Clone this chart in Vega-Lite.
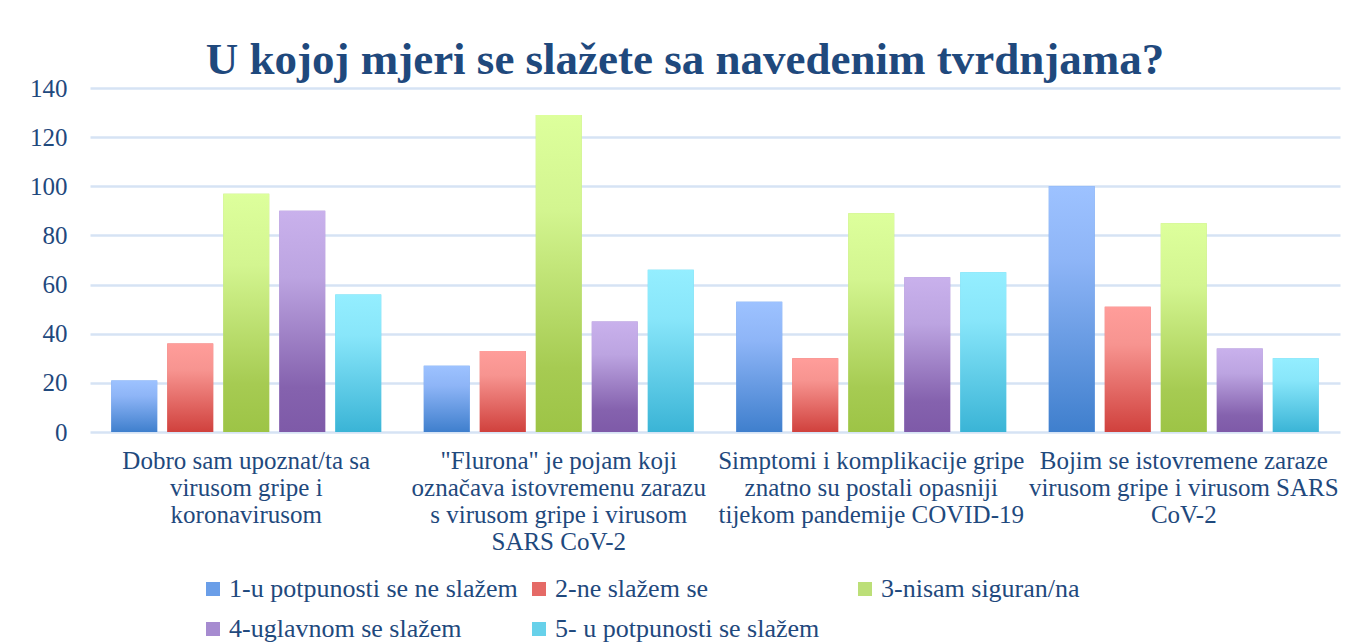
{
  "$schema": "https://vega.github.io/schema/vega-lite/v6.json",
  "width": 1250,
  "height": 344,
  "autosize": {"type": "none"},
  "padding": {"left": 90, "top": 88, "right": 8, "bottom": 210},
  "background": "white",
  "title": {
    "text": "U kojoj mjeri se slažete sa navedenim tvrdnjama?",
    "font": "Liberation Serif",
    "fontSize": 45,
    "fontWeight": "bold",
    "color": "#1F497D",
    "anchor": "middle",
    "dx": -30,
    "dy": 53,
    "offset": 10,
    "baseline": "alphabetic"
  },
  "config": {
    "view": {"stroke": null},
    "axis": {"labelFont": "Liberation Serif", "labelColor": "#1F497D"},
    "legend": {"labelFont": "Liberation Serif", "labelColor": "#1F497D"}
  },
  "data": {
    "values": [
      {"q": "Dobro sam upoznat/ta sa|virusom gripe i|koronavirusom", "s": "1-u potpunosti se ne slažem", "v": 21},
      {"q": "Dobro sam upoznat/ta sa|virusom gripe i|koronavirusom", "s": "2-ne slažem se", "v": 36},
      {"q": "Dobro sam upoznat/ta sa|virusom gripe i|koronavirusom", "s": "3-nisam siguran/na", "v": 97},
      {"q": "Dobro sam upoznat/ta sa|virusom gripe i|koronavirusom", "s": "4-uglavnom se slažem", "v": 90},
      {"q": "Dobro sam upoznat/ta sa|virusom gripe i|koronavirusom", "s": "5- u potpunosti se slažem", "v": 56},
      {"q": "\"Flurona\" je pojam koji|označava istovremenu zarazu|s virusom gripe i virusom|SARS CoV-2", "s": "1-u potpunosti se ne slažem", "v": 27},
      {"q": "\"Flurona\" je pojam koji|označava istovremenu zarazu|s virusom gripe i virusom|SARS CoV-2", "s": "2-ne slažem se", "v": 33},
      {"q": "\"Flurona\" je pojam koji|označava istovremenu zarazu|s virusom gripe i virusom|SARS CoV-2", "s": "3-nisam siguran/na", "v": 129},
      {"q": "\"Flurona\" je pojam koji|označava istovremenu zarazu|s virusom gripe i virusom|SARS CoV-2", "s": "4-uglavnom se slažem", "v": 45},
      {"q": "\"Flurona\" je pojam koji|označava istovremenu zarazu|s virusom gripe i virusom|SARS CoV-2", "s": "5- u potpunosti se slažem", "v": 66},
      {"q": "Simptomi i komplikacije gripe|znatno su postali opasniji|tijekom pandemije COVID-19", "s": "1-u potpunosti se ne slažem", "v": 53},
      {"q": "Simptomi i komplikacije gripe|znatno su postali opasniji|tijekom pandemije COVID-19", "s": "2-ne slažem se", "v": 30},
      {"q": "Simptomi i komplikacije gripe|znatno su postali opasniji|tijekom pandemije COVID-19", "s": "3-nisam siguran/na", "v": 89},
      {"q": "Simptomi i komplikacije gripe|znatno su postali opasniji|tijekom pandemije COVID-19", "s": "4-uglavnom se slažem", "v": 63},
      {"q": "Simptomi i komplikacije gripe|znatno su postali opasniji|tijekom pandemije COVID-19", "s": "5- u potpunosti se slažem", "v": 65},
      {"q": "Bojim se istovremene zaraze|virusom gripe i virusom SARS|CoV-2", "s": "1-u potpunosti se ne slažem", "v": 100},
      {"q": "Bojim se istovremene zaraze|virusom gripe i virusom SARS|CoV-2", "s": "2-ne slažem se", "v": 51},
      {"q": "Bojim se istovremene zaraze|virusom gripe i virusom SARS|CoV-2", "s": "3-nisam siguran/na", "v": 85},
      {"q": "Bojim se istovremene zaraze|virusom gripe i virusom SARS|CoV-2", "s": "4-uglavnom se slažem", "v": 34},
      {"q": "Bojim se istovremene zaraze|virusom gripe i virusom SARS|CoV-2", "s": "5- u potpunosti se slažem", "v": 30}
    ]
  },
  "encoding": {
    "x": {
      "field": "q",
      "type": "nominal",
      "sort": null,
      "title": null,
      "scale": {"paddingInner": 0, "paddingOuter": 0},
      "axis": {
        "labelExpr": "split(datum.label, '|')",
        "labelAngle": 0,
        "labelFontSize": 25,
        "labelLineHeight": 27,
        "labelPadding": 16,
        "labelLimit": 330,
        "ticks": false,
        "domain": false
      }
    },
    "xOffset": {
      "field": "s",
      "type": "nominal",
      "scale": {
        "domain": ["1-u potpunosti se ne slažem", "2-ne slažem se", "3-nisam siguran/na", "4-uglavnom se slažem", "5- u potpunosti se slažem"],
        "paddingInner": 0.18,
        "paddingOuter": 0.38
      }
    },
    "y": {
      "field": "v",
      "type": "quantitative",
      "title": null,
      "scale": {"domain": [0, 140], "nice": false},
      "axis": {
        "values": [0, 20, 40, 60, 80, 100, 120, 140],
        "labelFontSize": 25,
        "labelPadding": 23,
        "ticks": false,
        "domain": false,
        "gridColor": "#D6E3F4",
        "gridWidth": 2.5
      }
    }
  },
  "layer": [
    {
      "mark": {"type": "bar"},
      "encoding": {
        "color": {
          "field": "s",
          "type": "nominal",
          "scale": {
            "domain": ["1-u potpunosti se ne slažem", "2-ne slažem se", "3-nisam siguran/na", "4-uglavnom se slažem", "5- u potpunosti se slažem"],
            "range": ["#6A9EE8", "#E56A66", "#BCDF78", "#A68BD0", "#67D1EA"]
          },
          "legend": {
            "title": null,
            "orient": "none",
            "legendX": 110,
            "legendY": 488,
            "direction": "horizontal",
            "columns": 3,
            "gridAlign": "all",
            "symbolType": "square",
            "symbolSize": 196,
            "symbolStrokeWidth": 0,
            "labelFontSize": 26,
            "labelOffset": 3,
            "columnPadding": 8,
            "rowPadding": 14,
            "labelLimit": 400
          }
        }
      }
    },
    {
      "transform": [{"filter": "datum.s == '1-u potpunosti se ne slažem'"}],
      "mark": {"type": "bar", "color": {"gradient": "linear", "x1": 0, "y1": 0, "x2": 0, "y2": 1, "stops": [{"offset": 0, "color": "#9DC2FF"}, {"offset": 0.3, "color": "#8EB5F7"}, {"offset": 1, "color": "#3F7FCD"}]}}
    },
    {
      "transform": [{"filter": "datum.s == '2-ne slažem se'"}],
      "mark": {"type": "bar", "color": {"gradient": "linear", "x1": 0, "y1": 0, "x2": 0, "y2": 1, "stops": [{"offset": 0, "color": "#FF9D9A"}, {"offset": 0.3, "color": "#F79490"}, {"offset": 1, "color": "#D0413D"}]}}
    },
    {
      "transform": [{"filter": "datum.s == '3-nisam siguran/na'"}],
      "mark": {"type": "bar", "color": {"gradient": "linear", "x1": 0, "y1": 0, "x2": 0, "y2": 1, "stops": [{"offset": 0, "color": "#DDFF9C"}, {"offset": 0.3, "color": "#D3F590"}, {"offset": 0.8, "color": "#A6CB52"}, {"offset": 1, "color": "#9DC446"}]}}
    },
    {
      "transform": [{"filter": "datum.s == '4-uglavnom se slažem'"}],
      "mark": {"type": "bar", "color": {"gradient": "linear", "x1": 0, "y1": 0, "x2": 0, "y2": 1, "stops": [{"offset": 0, "color": "#C9B1EC"}, {"offset": 0.3, "color": "#BCA4E1"}, {"offset": 0.8, "color": "#8562AE"}, {"offset": 1, "color": "#7E5AA8"}]}}
    },
    {
      "transform": [{"filter": "datum.s == '5- u potpunosti se slažem'"}],
      "mark": {"type": "bar", "color": {"gradient": "linear", "x1": 0, "y1": 0, "x2": 0, "y2": 1, "stops": [{"offset": 0, "color": "#94EEFF"}, {"offset": 0.3, "color": "#88E6FA"}, {"offset": 1, "color": "#3AB4D6"}]}}
    }
  ]
}
